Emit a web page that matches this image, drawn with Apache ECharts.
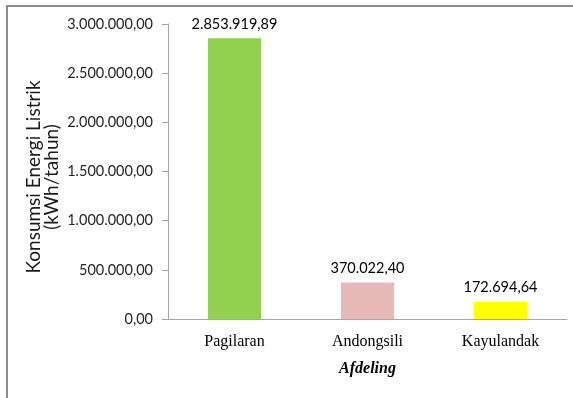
<!DOCTYPE html>
<html><head><meta charset="utf-8">
<script src="https://cdn.jsdelivr.net/npm/echarts@6/dist/echarts.min.js"></script>
<style>html,body{margin:0;padding:0;background:#fff}#c{width:573px;height:398px}</style>
</head><body><div id="c"></div>
<script>
const categories = ["Pagilaran", "Andongsili", "Kayulandak"];
const values = [2853919.89, 370022.40, 172694.64];
const barColors = ["#92D050", "#E6B9B8", "#FFFF00"];
const yTicks = [0, 500000, 1000000, 1500000, 2000000, 2500000, 3000000];
const yAxisTitleLines = ["Konsumsi Energi Listrik", "(kWh/tahun)"];
const xAxisTitle = "Afdeling";

function fmt(v) {
  const parts = v.toFixed(2).split(".");
  const intPart = parts[0].replace(/\B(?=(\d{3})+(?!\d))/g, ".");
  return intPart + "," + parts[1];
}

const titleX = [34, 52];
const chart = echarts.init(document.getElementById("c"), null, {renderer: "canvas"});
chart.setOption({
  animation: false,
  backgroundColor: "#fff",
  graphic: [
    {type: "polyline", shape: {points: [[7, 398], [7, 6], [573, 6]]}, style: {stroke: "#8c8c8c", lineWidth: 2, fill: null}}
  ].concat(yAxisTitleLines.map((t, i) => ({
    type: "text", x: titleX[i], y: 177, rotation: Math.PI / 2,
    style: {text: t, font: "19px Lato", fill: "#1a1a1a", textAlign: "center", textVerticalAlign: "middle"}
  }))),
  grid: {left: 168, right: 6, top: 24, bottom: 79, containLabel: false},
  xAxis: {
    type: "category",
    data: categories,
    name: xAxisTitle,
    nameLocation: "middle",
    nameGap: 42,
    nameTextStyle: {fontFamily: "Liberation Serif", fontSize: 16, fontWeight: "bold", fontStyle: "italic", color: "#000"},
    axisLine: {lineStyle: {color: "#a6a6a6", width: 1}},
    axisTick: {show: false},
    axisLabel: {fontFamily: "Liberation Serif", fontSize: 16, color: "#000", margin: 15}
  },
  yAxis: {
    type: "value",
    min: yTicks[0],
    max: yTicks[yTicks.length - 1],
    interval: yTicks[1] - yTicks[0],
    axisLine: {show: true, lineStyle: {color: "#a6a6a6", width: 1}},
    axisTick: {show: true, length: 6, lineStyle: {color: "#a6a6a6"}},
    splitLine: {show: false},
    axisLabel: {fontFamily: "Lato", fontSize: 14.5, color: "#262626", margin: 15, formatter: fmt}
  },
  series: [{
    type: "bar",
    barWidth: "40%",
    data: values.map((v, i) => ({value: v, itemStyle: {color: barColors[i]}})),
    label: {show: true, position: "top", distance: 7, fontFamily: "Lato", fontSize: 14.5, color: "#000", formatter: p => fmt(p.value)}
  }]
});
</script></body></html>
